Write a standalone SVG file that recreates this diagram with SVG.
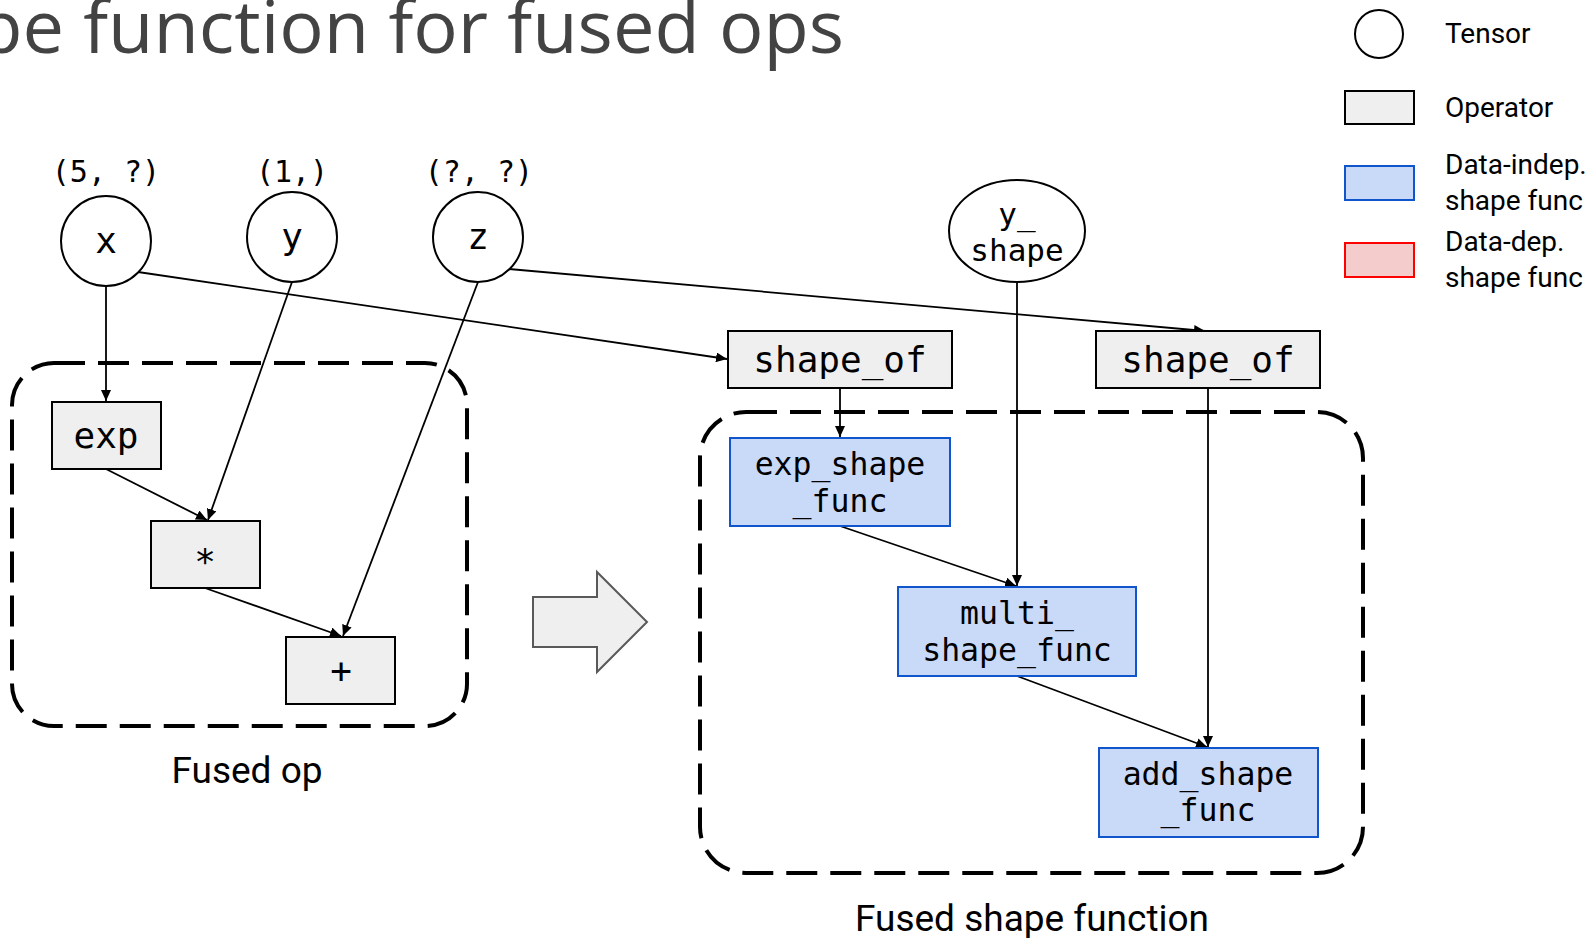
<svg xmlns="http://www.w3.org/2000/svg" width="1596" height="938" viewBox="0 0 1596 938">
  <defs>
    <marker id="arrow" markerUnits="userSpaceOnUse" markerWidth="12" markerHeight="10" refX="11" refY="5" orient="auto">
      <path d="M0,0 L11,5 L0,10 z" fill="#000"/>
    </marker>
    <style>
      .title { font-family: "Open Sans", "Noto Sans", sans-serif; font-size: 74px; fill: #434343; }
      .label { font-family: Roboto, "Liberation Sans", sans-serif; fill: #000; }
      .code { font-family: "DejaVu Sans Mono", "Liberation Mono", monospace; fill: #000; }
      .tensor { fill: #fff; stroke: #000; stroke-width: 2; }
      .op { fill: #efefef; stroke: #000; stroke-width: 2; }
      .sf { fill: #c9daf8; stroke: #1155cc; stroke-width: 2; }
      .sfdep { fill: #f4cccc; stroke: #ff0000; stroke-width: 2; }
      .group { fill: none; stroke: #000; stroke-width: 4; stroke-dasharray: 31 13; }
      .edge { fill: none; stroke: #000; stroke-width: 1.8; marker-end: url(#arrow); }
    </style>
  </defs>
  <rect width="1596" height="938" fill="#fff"/>

  <!-- slide title, running off the left edge -->
  <text class="title" x="844" y="53" text-anchor="end">Shape function for fused ops</text>

  <!-- legend -->
  <g id="legend">
    <circle class="tensor" cx="1379" cy="34" r="24"/>
    <text class="label" x="1445" y="43" font-size="28">Tensor</text>
    <rect class="op" x="1345" y="91" width="69" height="33"/>
    <text class="label" x="1445" y="117" font-size="28">Operator</text>
    <rect class="sf" x="1345" y="166" width="69" height="34"/>
    <text class="label" x="1445" y="174" font-size="28">Data-indep.</text>
    <text class="label" x="1445" y="210" font-size="28">shape func</text>
    <rect class="sfdep" x="1345" y="243" width="69" height="34"/>
    <text class="label" x="1445" y="251" font-size="28">Data-dep.</text>
    <text class="label" x="1445" y="287" font-size="28">shape func</text>
  </g>

  <!-- dashed group outlines -->
  <g id="fused-op">
    <rect class="group" x="12" y="363" width="455" height="363" rx="42" ry="42"/>
    <text class="label" x="247" y="783" font-size="37" text-anchor="middle">Fused op</text>
  </g>
  <g id="fused-shape-function">
    <rect class="group" x="700" y="412" width="663" height="461" rx="46" ry="46"/>
    <text class="label" x="1032" y="931" font-size="37" text-anchor="middle">Fused shape function</text>
  </g>

  <!-- transformation arrow -->
  <g id="transform-arrow">
    <path d="M533,597 L597,597 L597,572 L647,622 L597,672 L597,647 L533,647 z" fill="#efefef" stroke="#595959" stroke-width="2"/>
  </g>

  <!-- connectors -->
  <g id="edges">
    <line class="edge" x1="106" y1="286" x2="106" y2="401"/>
    <line class="edge" x1="292" y1="282" x2="208" y2="520"/>
    <line class="edge" x1="478" y1="282" x2="343" y2="636"/>
    <line class="edge" x1="106" y1="469" x2="207" y2="520"/>
    <line class="edge" x1="205" y1="588" x2="341" y2="636"/>
    <line class="edge" x1="138" y1="272" x2="727" y2="359"/>
    <line class="edge" x1="509" y1="269" x2="1205" y2="331"/>
    <line class="edge" x1="840" y1="388" x2="840" y2="437"/>
    <line class="edge" x1="1017" y1="282" x2="1017" y2="586"/>
    <line class="edge" x1="1208" y1="388" x2="1208" y2="747"/>
    <line class="edge" x1="840" y1="526" x2="1016" y2="586"/>
    <line class="edge" x1="1017" y1="676" x2="1207" y2="747"/>
  </g>

  <!-- input tensors -->
  <g id="x">
    <text class="code" x="106" y="182" font-size="30" text-anchor="middle" xml:space="preserve">(5, ?)</text>
    <circle class="tensor" cx="106" cy="241" r="45"/>
    <text class="code" x="106" y="253" font-size="36" text-anchor="middle">x</text>
  </g>
  <g id="y">
    <text class="code" x="292" y="182" font-size="30" text-anchor="middle">(1,)</text>
    <circle class="tensor" cx="292" cy="237" r="45"/>
    <text class="code" x="292" y="249" font-size="36" text-anchor="middle">y</text>
  </g>
  <g id="z">
    <text class="code" x="479" y="182" font-size="30" text-anchor="middle" xml:space="preserve">(?, ?)</text>
    <circle class="tensor" cx="478" cy="237" r="45"/>
    <text class="code" x="478" y="249" font-size="36" text-anchor="middle">z</text>
  </g>

  <!-- fused operators -->
  <g id="exp">
    <rect class="op" x="52" y="402" width="109" height="67"/>
    <text class="code" x="106" y="448" font-size="36" text-anchor="middle">exp</text>
  </g>
  <g id="mul">
    <rect class="op" x="151" y="521" width="109" height="67"/>
    <text class="code" x="205" y="574" font-size="36" text-anchor="middle">*</text>
  </g>
  <g id="add">
    <rect class="op" x="286" y="637" width="109" height="67"/>
    <text class="code" x="341" y="683" font-size="36" text-anchor="middle">+</text>
  </g>

  <!-- shape-side nodes -->
  <g id="y-shape">
    <ellipse class="tensor" cx="1017" cy="231" rx="68" ry="51"/>
    <text class="code" x="1017" y="225" font-size="31" text-anchor="middle">y_</text>
    <text class="code" x="1017" y="261" font-size="31" text-anchor="middle">shape</text>
  </g>
  <g id="shape-of-x">
    <rect class="op" x="728" y="331" width="224" height="57"/>
    <text class="code" x="840" y="372" font-size="36" text-anchor="middle">shape_of</text>
  </g>
  <g id="shape-of-z">
    <rect class="op" x="1096" y="331" width="224" height="57"/>
    <text class="code" x="1208" y="372" font-size="36" text-anchor="middle">shape_of</text>
  </g>
  <g id="exp-shape-func">
    <rect class="sf" x="730" y="438" width="220" height="88"/>
    <text class="code" x="840" y="475" font-size="31.5" text-anchor="middle">exp_shape</text>
    <text class="code" x="840" y="512" font-size="31.5" text-anchor="middle">_func</text>
  </g>
  <g id="multi-shape-func">
    <rect class="sf" x="898" y="587" width="238" height="89"/>
    <text class="code" x="1017" y="624" font-size="31.5" text-anchor="middle">multi_</text>
    <text class="code" x="1017" y="661" font-size="31.5" text-anchor="middle">shape_func</text>
  </g>
  <g id="add-shape-func">
    <rect class="sf" x="1099" y="748" width="219" height="89"/>
    <text class="code" x="1208" y="785" font-size="31.5" text-anchor="middle">add_shape</text>
    <text class="code" x="1208" y="821" font-size="31.5" text-anchor="middle">_func</text>
  </g>
</svg>
